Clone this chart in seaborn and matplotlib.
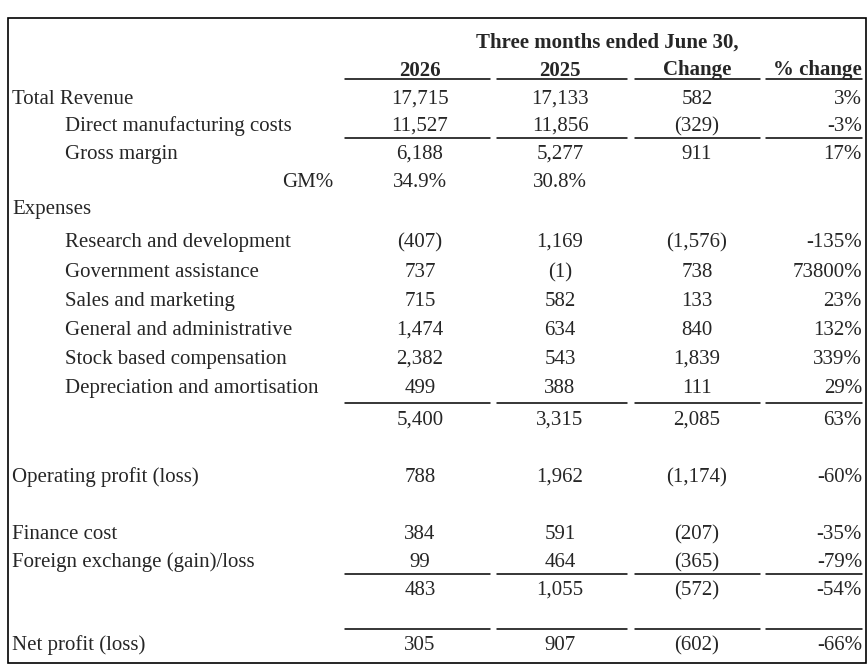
import matplotlib.pyplot as plt
import seaborn as sns

# table content
labels = ["Total Revenue", "Direct manufacturing costs", "Gross margin", "GM%", "Expenses",
          "Research and development", "Government assistance", "Sales and marketing",
          "General and administrative", "Stock based compensation",
          "Depreciation and amortisation", "", "Operating profit (loss)", "Finance cost",
          "Foreign exchange (gain)/loss", "", "Net profit (loss)"]
indent = [0, 1, 1, 2, 0, 1, 1, 1, 1, 1, 1, 0, 0, 0, 0, 0, 0]
col_2026 = ["17,715", "11,527", "6,188", "34.9%", "", "(407)", "737", "715", "1,474", "2,382",
            "499", "5,400", "788", "384", "99", "483", "305"]
col_2025 = ["17,133", "11,856", "5,277", "30.8%", "", "1,169", "(1)", "582", "634", "543",
            "388", "3,315", "1,962", "591", "464", "1,055", "907"]
col_change = ["582", "(329)", "911", "", "", "(1,576)", "738", "133", "840", "1,839",
              "111", "2,085", "(1,174)", "(207)", "(365)", "(572)", "(602)"]
col_pct = ["3%", "-3%", "17%", "", "", "-135%", "73800%", "23%", "132%", "339%",
           "29%", "63%", "-60%", "-35%", "-79%", "-54%", "-66%"]
headers = ["2026", "2025", "Change", "% change"]
title = "Three months ended June 30,"

sns.set_theme(style="white")
plt.rcParams["font.family"] = ["Liberation Serif", "DejaVu Serif"]

fig = plt.figure(figsize=(8.68, 6.67), dpi=100)
ax = fig.add_axes([0, 0, 1, 1])
ax.set_xlim(0, 868)
ax.set_ylim(667, 0)
ax.axis("off")

fs = 15
row_y = [97, 124, 152, 180, 207, 240, 270, 299, 328, 357, 386, 418, 475, 532, 560, 588, 643]
col_x = [420, 560, 697]

ax.add_patch(plt.Rectangle((8, 18), 858, 645, fill=False, lw=1.2, color="black"))
ax.text(607, 40, title, ha="center", va="center_baseline", fontsize=fs, fontweight="bold")
for x, h in zip(col_x, headers[:3]):
    ax.text(x, 68, h, ha="center", va="center_baseline", fontsize=fs, fontweight="bold")
ax.text(862, 68, headers[3], ha="right", va="center_baseline", fontsize=fs, fontweight="bold")

segs = [(345, 490), (497, 627), (635, 760), (766, 862)]
for y in [79, 138, 403, 574, 629]:
    for a, b in segs:
        ax.plot([a, b], [y, y], color="black", lw=1.1)

for i, y in enumerate(row_y):
    if indent[i] == 2:
        ax.text(333, y, labels[i], ha="right", va="center_baseline", fontsize=fs)
    else:
        ax.text(12 + 53 * indent[i], y, labels[i], ha="left", va="center_baseline", fontsize=fs)
    for x, col in zip(col_x, [col_2026, col_2025, col_change]):
        ax.text(x, y, col[i], ha="center", va="center_baseline", fontsize=fs)
    ax.text(862, y, col_pct[i], ha="right", va="center_baseline", fontsize=fs)

fig.savefig("out.png", dpi=100, facecolor="white")
